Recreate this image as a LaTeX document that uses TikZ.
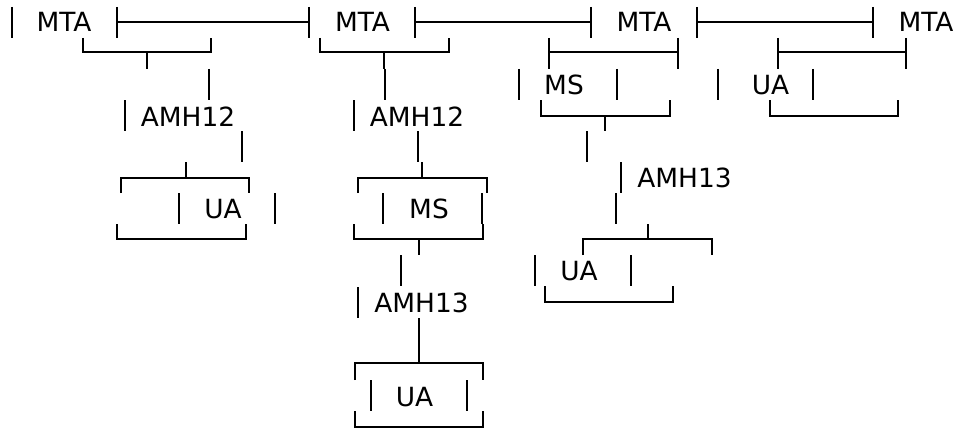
\documentclass[tikz,border=0pt]{standalone}
\usepackage{fontspec}
\setmainfont{DejaVu Sans}
\begin{document}
\begin{tikzpicture}[x=1pt,y=-1pt,line width=1.5pt,
  lbl/.style={anchor=base,inner sep=0pt,font=\fontsize{26.4}{30}\selectfont}]
\useasboundingbox (0,0) rectangle (974,428);

% first row
\node[lbl] (MTAa) at (64,32) {MTA};
\node[lbl] (MTAb) at (362.5,32) {MTA};
\node[lbl] (MTAc) at (644,32) {MTA};
\node[lbl] (MTAd) at (926,32) {MTA};
\draw (12,7) -- (12,38);
\draw (117,7) -- (117,38) (117,22) -- (309,22) (309,7) -- (309,38);
\draw (415,7) -- (415,38) (415,22) -- (591,22) (591,7) -- (591,38);
\draw (697,7) -- (697,38) (697,22) -- (873,22) (873,7) -- (873,38);

% second row
\draw (83,38) -- (83,52) -- (211,52) -- (211,38);
\draw (147,52) -- (147,69);
\draw (320,38) -- (320,52) -- (449,52) -- (449,38);
\draw (384,52) -- (384,69);
\draw (549,38) -- (549,69) (549,52) -- (678,52) (678,38) -- (678,69);
\draw (778,38) -- (778,69) (778,52) -- (906,52) (906,38) -- (906,69);

% third row
\node[lbl] (MSa) at (564,94) {MS};
\node[lbl] (UAa) at (770.5,94) {UA};
\draw (209,69) -- (209,100);
\draw (385,69) -- (385,100);
\draw (519,69) -- (519,100);
\draw (617,69) -- (617,100);
\draw (718,69) -- (718,100);
\draw (813,69) -- (813,100);
\draw (541,100) -- (541,116) -- (670,116) -- (670,100);
\draw (605,116) -- (605,131);
\draw (770,100) -- (770,116) -- (898,116) -- (898,100);

% AMH12
\node[lbl] (AMHa) at (188,126) {AMH12};
\node[lbl] (AMHb) at (417,126) {AMH12};
\draw (125,100) -- (125,131);
\draw (354,100) -- (354,131);
\draw (242,131) -- (242,162);
\draw (418,131) -- (418,162);
\draw (587,131) -- (587,162);

% AMH13 and brackets
\node[lbl] (AMHc) at (684.5,187) {AMH13};
\draw (186,162) -- (186,178);
\draw (121,193) -- (121,178) -- (249,178) -- (249,193);
\draw (422,162) -- (422,178);
\draw (358,193) -- (358,178) -- (487,178) -- (487,193);
\draw (621,162) -- (621,193);

% UA, MS
\node[lbl] (UAb) at (223,218) {UA};
\node[lbl] (MSb) at (429,218) {MS};
\draw (179,193) -- (179,224);
\draw (275,193) -- (275,224);
\draw (383,193) -- (383,224);
\draw (482,193) -- (482,224);
\draw (616,193) -- (616,224);
\draw (117,224) -- (117,239) -- (246,239) -- (246,224);
\draw (354,224) -- (354,239) -- (483,239) -- (483,224);
\draw (419,239) -- (419,255);
\draw (648,224) -- (648,239);
\draw (583,255) -- (583,239) -- (712,239) -- (712,255);

% UA right
\node[lbl] (UAc) at (579,280) {UA};
\draw (401,255) -- (401,286);
\draw (535,255) -- (535,286);
\draw (631,255) -- (631,286);
\draw (545,286) -- (545,302) -- (673,302) -- (673,286);

% AMH13 below MS
\node[lbl] (AMHd) at (421.5,312) {AMH13};
\draw (358,287) -- (358,318);
\draw (419,318) -- (419,363);
\draw (355,380) -- (355,363) -- (483,363) -- (483,380);

% last UA
\node[lbl] (UAd) at (414.5,406) {UA};
\draw (371,380) -- (371,411);
\draw (467,380) -- (467,411);
\draw (355,411) -- (355,427) -- (483,427) -- (483,411);
\end{tikzpicture}
\end{document}
